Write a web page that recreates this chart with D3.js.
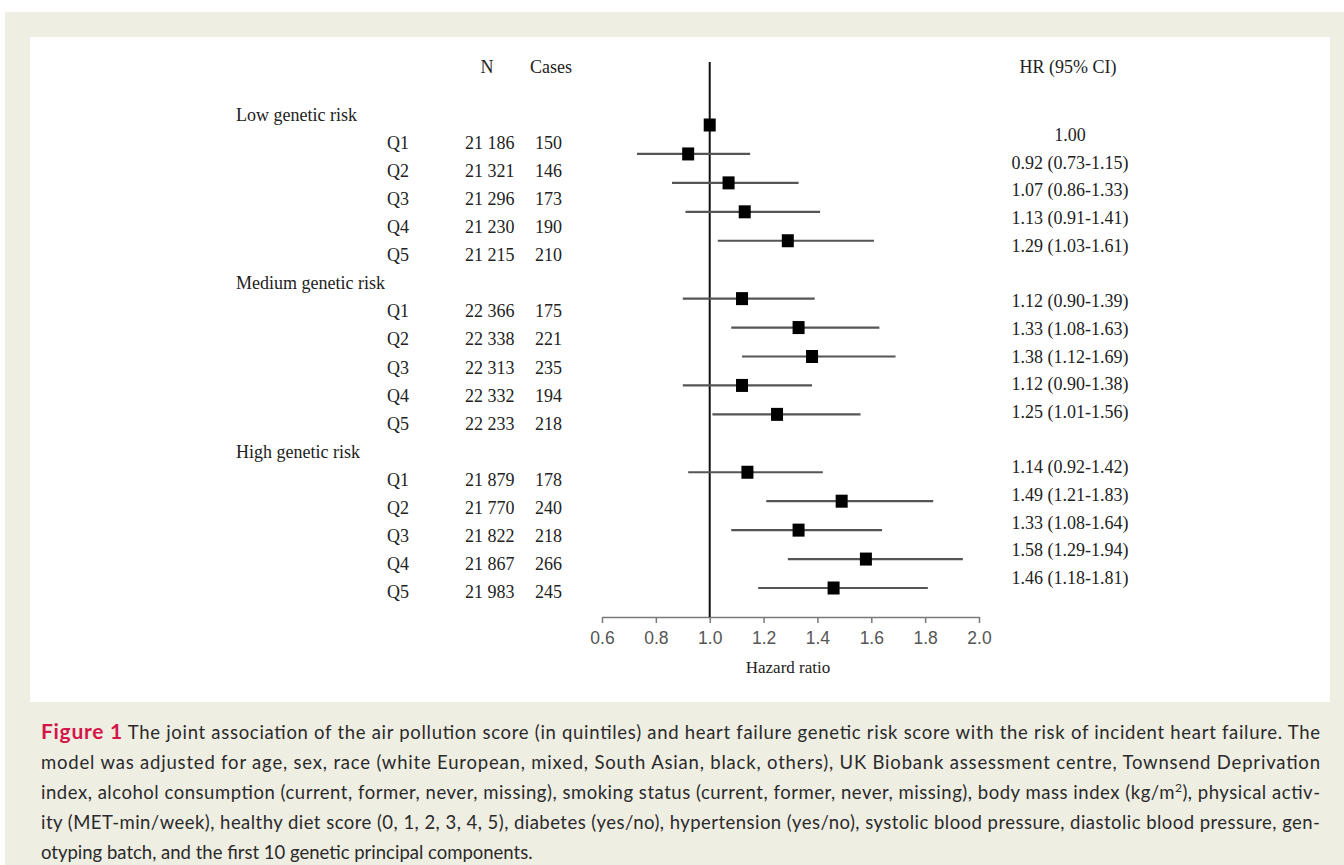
<!DOCTYPE html>
<html>
<head>
<meta charset="utf-8">
<style>
  body { margin: 0; background: #fff; }
  svg { display: block; }
</style>
<title>Forest plot</title>
</head>
<body>
<script src="https://cdn.jsdelivr.net/npm/d3@7"></script>
<script>

// data /////////////////////////////////////////////////////////////////

var groups    = ['Low genetic risk', 'Medium genetic risk', 'High genetic risk'];
var quintiles = ['Q1', 'Q2', 'Q3', 'Q4', 'Q5'];
var nVals     = [['21 186', '21 321', '21 296', '21 230', '21 215'],
                 ['22 366', '22 338', '22 313', '22 332', '22 233'],
                 ['21 879', '21 770', '21 822', '21 867', '21 983']];
var cases     = [[150, 146, 173, 190, 210],
                 [175, 221, 235, 194, 218],
                 [178, 240, 218, 266, 245]];
var hr        = [[1.00, 0.92, 1.07, 1.13, 1.29],
                 [1.12, 1.33, 1.38, 1.12, 1.25],
                 [1.14, 1.49, 1.33, 1.58, 1.46]];
var lo        = [[null, 0.73, 0.86, 0.91, 1.03],
                 [0.90, 1.08, 1.12, 0.90, 1.01],
                 [0.92, 1.21, 1.08, 1.29, 1.18]];
var hi        = [[null, 1.15, 1.33, 1.41, 1.61],
                 [1.39, 1.63, 1.69, 1.38, 1.56],
                 [1.42, 1.83, 1.64, 1.94, 1.81]];
var xTicks    = [0.6, 0.8, 1.0, 1.2, 1.4, 1.6, 1.8, 2.0];

var captionLines = [
  'The joint association of the air pollution score (in quintiles) and heart failure genetic risk score with the risk of incident heart failure. The',
  'model was adjusted for age, sex, race (white European, mixed, South Asian, black, others), UK Biobank assessment centre, Townsend Deprivation',
  ['index, alcohol consumption (current, former, never, missing), smoking status (current, former, never, missing), body mass index (kg/m', '2', '), physical activ-'],
  'ity (MET-min/week), healthy diet score (0, 1, 2, 3, 4, 5), diabetes (yes/no), hypertension (yes/no), systolic blood pressure, diastolic blood pressure, gen-',
  'otyping batch, and the first 10 genetic principal components.'
];

var rows = [];
groups.forEach((g, gi) => {
  quintiles.forEach((q, qi) => {
    rows.push({
      idx: gi * 6 + qi + 1,
      q: q, n: nVals[gi][qi], cases: cases[gi][qi],
      hr: hr[gi][qi], lo: lo[gi][qi], hi: hi[gi][qi],
    });
  });
});

// layout ///////////////////////////////////////////////////////////////

var W = 1344, H = 865;
var serif = '"Liberation Serif", "Times New Roman", serif';

var svg = d3.select('body').append('svg')
  .attr('width', W).attr('height', H);

svg.append('rect').attr('x', 5).attr('y', 12).attr('width', W - 5).attr('height', H - 12)
  .attr('fill', '#efeee3');
svg.append('rect').attr('x', 30).attr('y', 37).attr('width', 1300).attr('height', 665)
  .attr('fill', '#fff');

var x = d3.scaleLinear().domain([0.6, 2.0]).range([602, 979]);
var yText = d3.scaleLinear().domain([0, 17]).range([115, 592]);   // left table rows
var yPlot = d3.scaleLinear().domain([1, 17]).range([125, 588]);   // markers
var yHR   = d3.scaleLinear().domain([1, 17]).range([135, 578]);   // HR column
var axisY = 617;

var txt = svg.append('g')
  .attr('font-family', serif).attr('font-size', 18).attr('fill', '#222');

// headers
txt.append('text').attr('x', 487).attr('y', 73).attr('text-anchor', 'middle').text('N');
txt.append('text').attr('x', 551).attr('y', 73).attr('text-anchor', 'middle').text('Cases');
txt.append('text').attr('x', 1068).attr('y', 73).attr('text-anchor', 'middle').text('HR (95% CI)');

// group labels
txt.selectAll('.grp').data(groups).join('text')
  .attr('class', 'grp')
  .attr('x', 236).attr('y', (d, i) => yText(i * 6) + 6)
  .text(d => d);

// row texts
var rt = txt.selectAll('.row').data(rows).join('g').attr('class', 'row')
  .attr('transform', d => `translate(0,${yText(d.idx) + 6})`);
rt.append('text').attr('x', 387).text(d => d.q);
rt.append('text').attr('x', 465).text(d => d.n);
rt.append('text').attr('x', 535).text(d => d.cases);

txt.selectAll('.hr').data(rows).join('text')
  .attr('class', 'hr')
  .attr('x', 1070).attr('y', d => yHR(d.idx) + 6)
  .attr('text-anchor', 'middle')
  .text(d => d.lo == null ? d.hr.toFixed(2)
    : `${d.hr.toFixed(2)} (${d.lo.toFixed(2)}-${d.hi.toFixed(2)})`);

// axis
var ax = svg.append('g')
  .attr('transform', `translate(0,${axisY})`)
  .call(d3.axisBottom(x).tickValues(xTicks).tickFormat(d3.format('.1f')).tickSize(6).tickSizeOuter(0));
ax.select('.domain').attr('stroke', '#7a7a7a').attr('stroke-width', 1.5);
ax.selectAll('.tick line').attr('stroke', '#7a7a7a').attr('stroke-width', 1.5);
ax.selectAll('.tick text')
  .attr('font-family', '"Liberation Sans", Arial, sans-serif')
  .attr('font-size', 17.5).attr('fill', '#555').attr('dy', '1.05em');

txt.append('text').attr('x', 788).attr('y', 673).attr('text-anchor', 'middle')
  .attr('font-size', 17).text('Hazard ratio');

// reference line
svg.append('line')
  .attr('x1', x(1)).attr('x2', x(1))
  .attr('y1', 62).attr('y2', axisY)
  .attr('stroke', '#111').attr('stroke-width', 2);

// CIs and markers
var marks = svg.append('g');
marks.selectAll('.ci').data(rows.filter(d => d.lo != null)).join('line')
  .attr('class', 'ci')
  .attr('x1', d => x(d.lo)).attr('x2', d => x(d.hi))
  .attr('y1', d => yPlot(d.idx)).attr('y2', d => yPlot(d.idx))
  .attr('stroke', '#555').attr('stroke-width', 2.2);
marks.selectAll('.pt').data(rows).join('rect')
  .attr('class', 'pt')
  .attr('x', d => x(d.hr) - 6).attr('y', d => yPlot(d.idx) - 6.5)
  .attr('width', 12).attr('height', 13)
  .attr('fill', '#000');

// caption
var cap = svg.append('g')
  .attr('font-family', 'Lato, "Open Sans", sans-serif')
  .attr('font-size', 18.5).attr('fill', '#2a2a2a');
captionLines.forEach((line, i) => {
  var t = cap.append('text').attr('x', 41).attr('y', 739 + i * 30);
  if (i == 0) {
    t.attr('textLength', 1279).attr('lengthAdjust', 'spacing');
    t.append('tspan').attr('fill', '#d3174a').attr('font-weight', 'bold').attr('font-size', 21).text('Figure 1');
    t.append('tspan').text('  ' + line);
  } else if (Array.isArray(line)) {
    t.attr('textLength', 1279).attr('lengthAdjust', 'spacing');
    t.append('tspan').text(line[0]);
    t.append('tspan').attr('font-size', 12).attr('dy', -7).text(line[1]);
    t.append('tspan').attr('dy', 7).text(line[2]);
  } else if (i < captionLines.length - 1) {
    t.attr('textLength', 1279).attr('lengthAdjust', 'spacing').text(line);
  } else {
    t.text(line);
  }
});

</script>
</body>
</html>
